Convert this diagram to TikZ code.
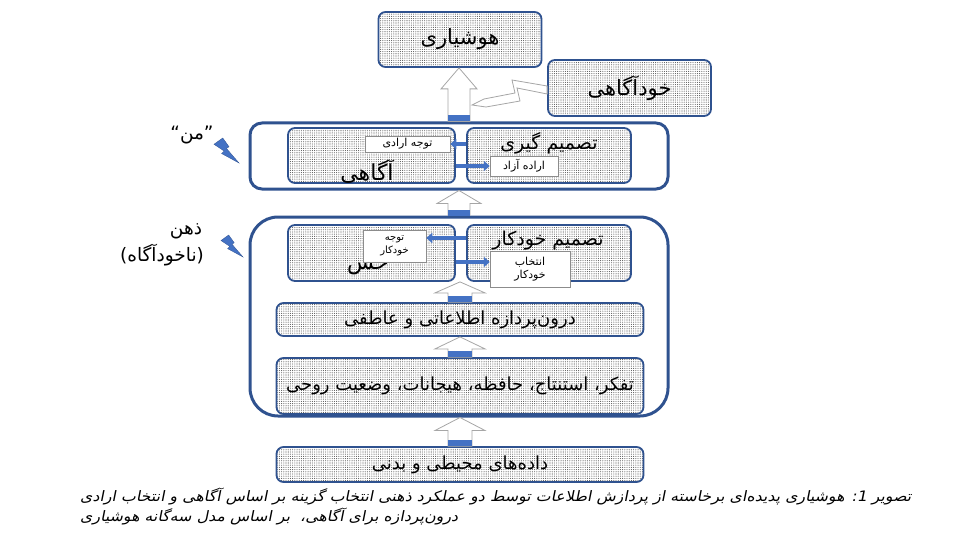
\documentclass[tikz,border=0pt]{standalone}
\usepackage{fontspec}
\TeXXeTstate=1
\newfontfamily\farsi[Script=Arabic]{DejaVu Sans}
\newfontfamily\farsicap[Script=Arabic,FakeSlant=0.2,FakeStretch=1.1]{DejaVu Sans}
\usetikzlibrary{arrows.meta,calc,patterns.meta}
\definecolor{frameblue}{HTML}{2F528F}
\definecolor{accent}{HTML}{4472C4}
\definecolor{outline}{HTML}{A6A6A6}
\newcommand{\rtl}[1]{\beginR#1\endR}
\tikzset{
  dotbox/.style={draw=frameblue, line width=1.8pt, rounded corners=7pt,
    preaction={fill=white}, pattern={Dots[distance=2.2pt,radius=0.55pt]},
    pattern color=black!65, inner sep=0pt, align=center,
    font=\farsi\fontsize{18}{20}\selectfont},
  egoframe/.style={draw=frameblue, line width=3pt, rounded corners=12pt, inner sep=0pt},
  mindframe/.style={egoframe, rounded corners=28pt},
  notebox/.style={draw=black!45, line width=0.5pt, fill=white, inner sep=0pt,
    align=center, font=\farsi\fontsize{11}{13.5}\selectfont},
  bigtext/.style={font=\farsi\fontsize{22}{24}\selectfont, inner sep=0pt},
  headtext/.style={font=\farsi\fontsize{19}{22}\selectfont, inner sep=0pt},
  sidetext/.style={font=\farsi\fontsize{18.5}{20}\selectfont, inner sep=0pt},
  smallarr/.style={-{Triangle[length=6pt,width=10pt]}, line width=3.5pt, draw=accent},
  hollowarr/.style={draw=outline, line width=0.8pt, fill=white, line join=miter},
  bolt/.pic={\fill[accent, draw=frameblue, line width=0.3pt]
    (0,0.25) -- (0.35,0) -- (0.6,0.35) -- (0.5,0.42) -- (1,1) -- (0.3,0.62) -- (0.4,0.52) -- cycle;}
}
% hollow block arrow: from, to, head length, head half width, shaft half width
\newcommand{\blockup}[5]{%
  \draw[hollowarr] let \p1=(#1), \p2=(#2) in
    (\x1-#5,\y1) -- (\x1-#5,\y2-#3) -- (\x1-#4,\y2-#3) -- (\x1,\y2)
    -- (\x1+#4,\y2-#3) -- (\x1+#5,\y2-#3) -- (\x1+#5,\y1) -- cycle;
  \fill[accent] let \p1=(#1) in (\x1-#5+0.4pt,\y1) rectangle (\x1+#5-0.4pt,\y1+6pt);}

\begin{document}
\begin{tikzpicture}[x=1pt,y=-1pt]
  \useasboundingbox (0,0) rectangle (960,540);

  % outer frames
  \node[egoframe, minimum width=418, minimum height=66] (egobox) at (459,156) {};
  \node[mindframe, minimum width=418, minimum height=199] (mindbox) at (459,316.5) {};

  % top
  \node[dotbox, minimum width=163, minimum height=55, font=\farsi\fontsize{21}{24}\selectfont] (aware) at (460,39.5) {هوشیاری};
  \node[dotbox, minimum width=163, minimum height=56, font=\farsi\fontsize{21}{24}\selectfont] (selfaw) at (629.5,88) {خودآگاهی};

  % conscious level
  \node[dotbox, minimum width=167, minimum height=55] (consc) at (371.5,155.5) {};
  \node[dotbox, minimum width=164, minimum height=55] (decide) at (549,155.5) {};
  \node[bigtext] (conscT) at (367,172) {آگاهی};
  \node[headtext] (decideT) at (549,143) {\rtl{تصمیم گیری}};
  \node[notebox, minimum width=85, minimum height=16] (volatt) at (407.5,144) {\rtl{توجه ارادی}};
  \node[notebox, minimum width=68, minimum height=20] (freewill) at (524,166) {\rtl{اراده آزاد}};
  \draw[smallarr] (decide.west |- volatt.east) -- (volatt.east);
  \draw[smallarr] (consc.east |- freewill.west) -- (freewill.west);

  % unconscious level
  \node[dotbox, minimum width=167, minimum height=56] (sense) at (371.5,253) {};
  \node[dotbox, minimum width=164, minimum height=56] (autodec) at (549,253) {};
  \node[bigtext] (senseT) at (368,268) {حس};
  \node[headtext] (autodecT) at (548,241) {\rtl{تصمیم خودکار}};
  \node[notebox, minimum width=63, minimum height=32, font=\farsi\fontsize{10}{13.5}\selectfont] (autoatt) at (394.5,246) {توجه\\خودکار};
  \node[notebox, minimum width=80, minimum height=36] (autosel) at (530,269) {انتخاب\\خودکار};
  \draw[smallarr] (autodec.west |- 0,238) -- (autoatt.east |- 0,238);
  \draw[smallarr] (sense.east |- 0,262) -- (autosel.west |- 0,262);

  \node[dotbox, minimum width=367, minimum height=33] (proc) at (460,319.5) {\rtl{درون‌پردازه اطلاعاتی و عاطفی}};
  \node[dotbox, minimum width=367, minimum height=56] (think) at (460,386) {\rtl{تفکر، استنتاج، حافظه، هیجانات، وضعیت روحی}};
  \node[dotbox, minimum width=367, minimum height=35] (data) at (460,464.5) {\rtl{داده‌های محیطی و بدنی}};

  % block arrows
  \coordinate (midgap) at ($(sense.south east)!0.5!(autodec.south west)$);
  \blockup{data.north}{mindbox.south}{13pt}{25pt}{12pt}
  \blockup{think.north}{proc.south}{12pt}{25pt}{12pt}
  \blockup{proc.north}{midgap}{11pt}{25pt}{12pt}
  \blockup{mindbox.north}{egobox.south}{13pt}{22pt}{11pt}
  \blockup{egobox.north}{aware.south}{21pt}{18pt}{11pt}

  % zigzag from self-awareness
  \draw[hollowarr] (selfaw.west) ++(0,-2) -- (512,80) -- (515,93) -- (484,99) -- (472,105)
    -- (486,107) -- (520,101) -- (517,88) -- ($(selfaw.west)+(0,6)$) -- cycle;

  % side labels
  \node[sidetext] (egoT) at (192,135) {”من“};
  \pic[scale=25] at (214,138) {bolt};
  \node[sidetext] (mindT) at (186,231) {ذهن};
  \node[sidetext] (mindT2) at (162,255) {(ناخودآگاه)};
  \pic[scale=22] at (221,235) {bolt};

  \node[anchor=north west, align=left, inner sep=0pt,
    font=\farsicap\fontsize{14.4}{20}\selectfont] (caption) at (80,488)
    {\rtl{تصویر 1: هوشیاری پدیده‌ای برخاسته از پردازش اطلاعات توسط دو عملکرد ذهنی انتخاب گزینه بر اساس آگاهی و انتخاب ارادی}\\
     \rtl{درون‌پردازه برای آگاهی،\ \ بر اساس مدل سه‌گانه هوشیاری}};
\end{tikzpicture}
\end{document}
